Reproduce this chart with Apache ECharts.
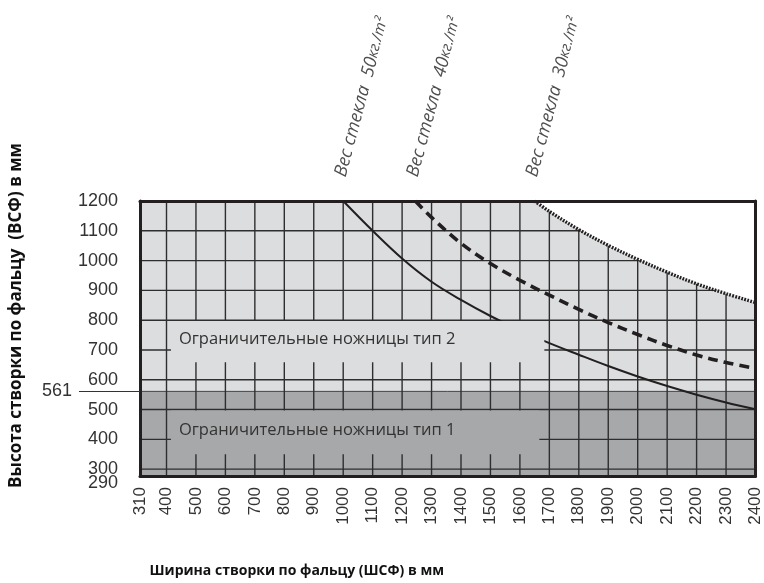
<!DOCTYPE html>
<html>
<head>
<meta charset="utf-8">
<script src="https://cdn.jsdelivr.net/npm/echarts@6/dist/echarts.min.js"></script>
<style>html,body{margin:0;padding:0;background:#fff;}#c{width:764px;height:583px;}</style>
</head>
<body>
<div id="c"></div>
<script>
// ---- data ----
const xAxisMin = 310, xAxisMax = 2400;
const yAxisMin = 277, yAxisMax = 1200;
const yBottomLabel = '290';
const yBoundary = 561;
const xTickLabels = [310, 400, 500, 600, 700, 800, 900, 1000, 1100, 1200, 1300, 1400, 1500, 1600, 1700, 1800, 1900, 2000, 2100, 2200, 2300, 2400];
const xGridLines = [400, 500, 600, 700, 800, 900, 1000, 1100, 1200, 1300, 1400, 1500, 1600, 1700, 1800, 1900, 2000, 2100, 2200, 2300];
const yTickLabels = [300, 400, 500, 600, 700, 800, 900, 1000, 1100, 1200];
const yGridLines = [300, 400, 500, 600, 700, 800, 900, 1000, 1100];
// glass weight curves [width, height]
const glass50 = [[1000,1200],[1100,1100],[1200,1007],[1300,929],[1400,868],[1500,814],[1600,766],[1700,723],[1800,684],[1900,646],[2000,611],[2100,579],[2200,550],[2300,524],[2400,501]];
const glass40 = [[1245,1200],[1300,1145],[1400,1058],[1500,990],[1600,934],[1700,884],[1800,836],[1900,792],[2000,752],[2100,715],[2200,683],[2300,658],[2400,638]];
const glass30 = [[1650,1200],[1700,1165],[1800,1104],[1900,1051],[2000,1004],[2100,961],[2200,922],[2300,889],[2400,859]];
const weightLabels = ['50', '40', '30'];
const zoneLabels = ['Ограничительные ножницы тип 2', 'Ограничительные ножницы тип 1'];

const LIGHT = '#dcdddf', DARK = '#a7a8aa', INK = '#231f20', GRID = '#2e2e2e';
const chart = echarts.init(document.getElementById('c'), null, {renderer: 'canvas'});

const baseAxis = {
  z: 10, splitLine: {show: false},
  axisLine: {show: true, onZero: false, lineStyle: {color: INK, width: 3}},
  axisTick: {show: false}, axisLabel: {show: false}
};
const tickFont = {fontFamily: 'Liberation Sans', fontSize: 18, color: '#333'};

const option = {
  animation: false,
  grid: {left: 139, right: 7, top: 201, bottom: 107, show: true, backgroundColor: LIGHT, borderWidth: 0},
  xAxis: [
    Object.assign({}, baseAxis, {
      type: 'value', position: 'bottom', min: xAxisMin, max: xAxisMax,
      axisLabel: Object.assign({show: true, customValues: xTickLabels, rotate: 90, margin: 11, formatter: v => String(v)}, tickFont, {fontSize: 17}),
      name: 'Ширина створки по фальцу (ШСФ) в мм', nameLocation: 'middle', nameGap: 88,
      nameTextStyle: {fontFamily: 'Open Sans', fontWeight: 'bold', fontSize: 14, color: '#111', padding: [0, 302, 0, 0]}
    }),
    Object.assign({}, baseAxis, {type: 'value', position: 'top', min: xAxisMin, max: xAxisMax})
  ],
  yAxis: [
    Object.assign({}, baseAxis, {
      type: 'value', position: 'left', min: yAxisMin, max: yAxisMax,
      axisLabel: Object.assign({show: true, customValues: yTickLabels, margin: 22, formatter: v => String(v)}, tickFont),
      name: 'Высота створки по фальцу  (ВСФ) в мм', nameLocation: 'middle', nameGap: 115, nameRotate: 90,
      nameTextStyle: {fontFamily: 'Open Sans', fontWeight: 'bold', fontSize: 17, color: '#111', padding: [0, 0, 0, 46]}
    }),
    Object.assign({}, baseAxis, {type: 'value', position: 'right', min: yAxisMin, max: yAxisMax}),
    Object.assign({}, baseAxis, { // 561 boundary tick
      type: 'value', position: 'left', min: yAxisMin, max: yAxisMax,
      axisLine: {show: false},
      axisTick: {show: true, customValues: [yBoundary], length: 61, lineStyle: {color: '#333', width: 1}},
      axisLabel: Object.assign({show: true, customValues: [yBoundary], margin: 68}, tickFont)
    }),
    Object.assign({}, baseAxis, { // bottom label
      type: 'value', position: 'left', min: yAxisMin, max: yAxisMax,
      axisLine: {show: false},
      axisLabel: Object.assign({show: true, showMinLabel: true, customValues: [yAxisMin], margin: 22,
        formatter: () => '{low|' + yBottomLabel + '}',
        rich: {low: Object.assign({padding: [14, 0, 0, 0]}, tickFont)}}, tickFont)
    })
  ],
  series: [
    { // dark zone up to 561
      type: 'line', z: 1, silent: true, symbol: 'none',
      data: [[xAxisMin, yBoundary], [xAxisMax, yBoundary]],
      lineStyle: {color: '#444', width: 1},
      areaStyle: {color: DARK, opacity: 1, origin: 'start'}
    },
    { // vertical grid lines
      type: 'custom', z: 3, silent: true,
      data: xGridLines.map(v => [v, yAxisMin]),
      renderItem: (params, api) => {
        const a = api.coord([api.value(0), yAxisMin]);
        const b = api.coord([api.value(0), yAxisMax]);
        return {type: 'line', shape: {x1: a[0], y1: a[1], x2: b[0], y2: b[1]}, style: {stroke: GRID, lineWidth: 1.4}};
      }
    },
    { // horizontal grid lines
      type: 'custom', z: 3, silent: true,
      data: yGridLines.map(v => [xAxisMin, v]),
      renderItem: (params, api) => {
        const a = api.coord([xAxisMin, api.value(1)]);
        const b = api.coord([xAxisMax, api.value(1)]);
        return {type: 'line', shape: {x1: a[0], y1: a[1], x2: b[0], y2: b[1]}, style: {stroke: GRID, lineWidth: 1.4}};
      }
    },
    { // 30 kg/m2 - dotted, white above
      type: 'line', z: 4, silent: true, symbol: 'none', smooth: 0.35,
      data: glass30,
      lineStyle: {color: INK, width: 3.4, type: [1.8, 1.3]},
      areaStyle: {color: '#ffffff', opacity: 1, origin: 'end'}
    },
    { // 40 kg/m2 - dashed
      type: 'line', z: 5, silent: true, symbol: 'none', smooth: 0.35,
      data: glass40,
      lineStyle: {color: INK, width: 3.6, type: [10, 6]}
    },
    { // 50 kg/m2 - solid
      type: 'line', z: 5, silent: true, symbol: 'none', smooth: 0.35,
      data: glass50,
      lineStyle: {color: INK, width: 2}
    },
    { // zone label boxes
      type: 'custom', z: 6, silent: true,
      data: [[415, 797, 1683, 659], [415, 497, 1666, 350]],
      renderItem: (params, api) => {
        const p0 = api.coord([api.value(0), api.value(1)]);
        const p1 = api.coord([api.value(2), api.value(3)]);
        const fill = params.dataIndex === 0 ? LIGHT : DARK;
        return {type: 'group', children: [
          {type: 'rect', shape: {x: p0[0], y: p0[1], width: p1[0] - p0[0], height: p1[1] - p0[1]}, style: {fill: fill}},
          {type: 'text', x: p0[0] + 8, y: (p0[1] + p1[1]) / 2 - 2,
           style: {text: zoneLabels[params.dataIndex], fill: '#333', fontFamily: 'Open Sans', fontSize: 16.5, verticalAlign: 'middle', align: 'left'}}
        ]};
      }
    },
    { // curve captions
      type: 'scatter', z: 7, silent: true, clip: false, symbolSize: 0,
      data: [glass50[0], glass40[0], glass30[0]],
      label: {
        show: true, position: 'inside', rotate: 75, align: 'left', verticalAlign: 'bottom', offset: [23, 0],
        formatter: p => '{a|Вес стекла  ' + weightLabels[p.dataIndex] + '}{b|кг./m²}',
        rich: {
          a: {fontFamily: 'Open Sans', fontStyle: 'italic', fontSize: 18, color: '#222'},
          b: {fontFamily: 'Open Sans', fontStyle: 'italic', fontSize: 15, color: '#222'}
        }
      }
    }
  ]
};
chart.setOption(option);
</script>
</body>
</html>
